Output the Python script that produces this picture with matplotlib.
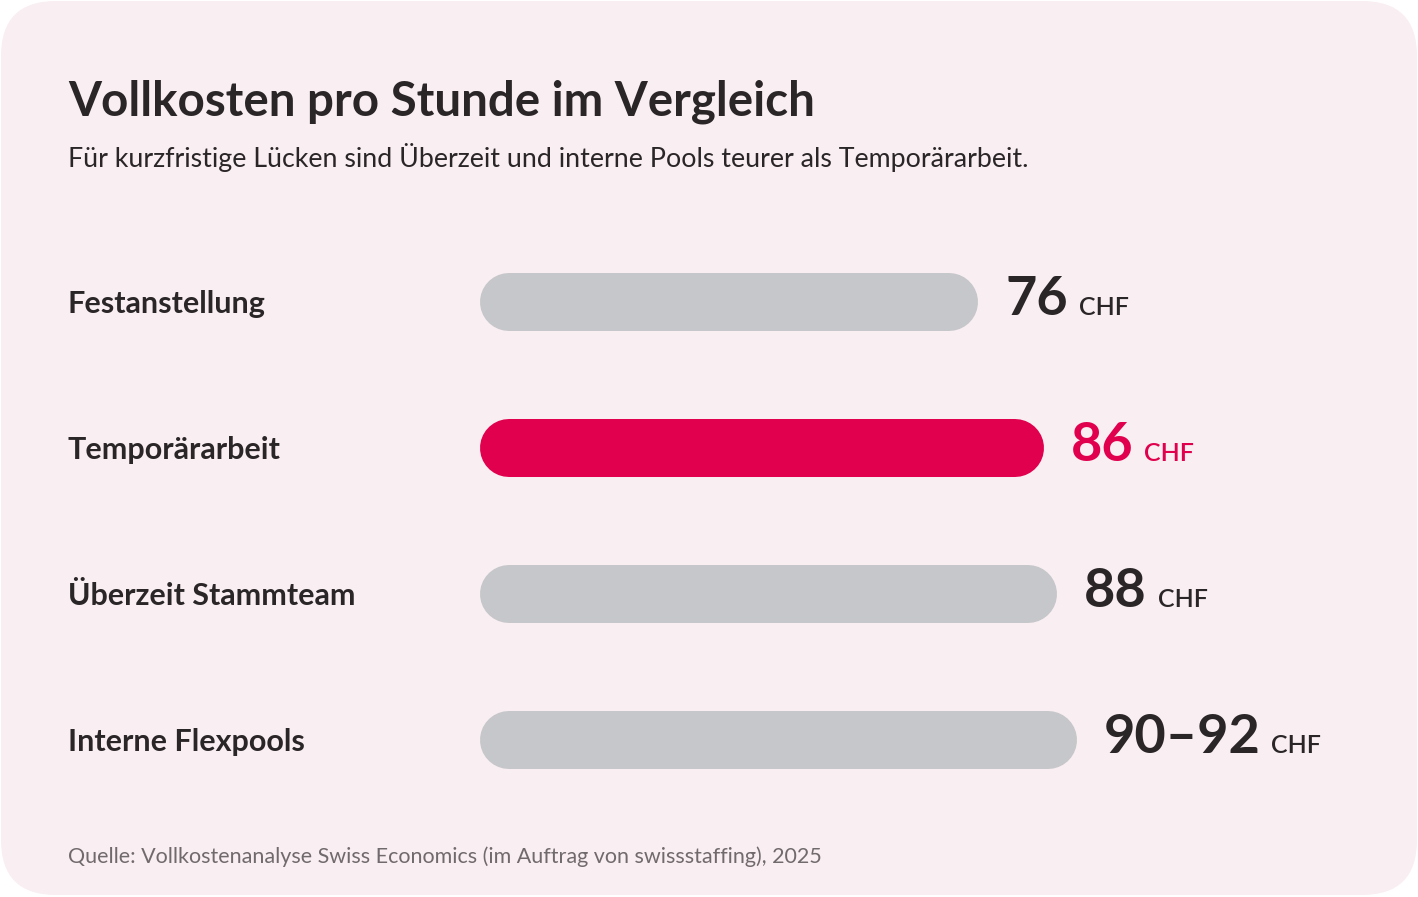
import matplotlib
matplotlib.use("Agg")
import matplotlib.pyplot as plt
from matplotlib.patches import FancyBboxPatch

# ---------------------------
# Data
# ---------------------------
categories = ["Festanstellung", "Temporärarbeit", "Überzeit Stammteam", "Interne Flexpools"]
cost_low = [76, 86, 88, 90]
cost_high = [76, 86, 88, 92]
value_labels = ["76", "86", "88", "90–92"]
highlight = "Temporärarbeit"

title = "Vollkosten pro Stunde im Vergleich"
subtitle = "Für kurzfristige Lücken sind Überzeit und interne Pools teurer als Temporärarbeit."
source = "Quelle: Vollkostenanalyse Swiss Economics (im Auftrag von swissstaffing), 2025"

# ---------------------------
# Style
# ---------------------------
plt.rcParams["font.family"] = ["Lato", "DejaVu Sans"]
card_color = "#F9EEF2"
text_dark = "#2A2627"
grey_bar = "#C6C7CA"
red = "#E0004D"
source_grey = "#706A6D"

W, H = 1418, 897
fig = plt.figure(figsize=(W / 100, H / 100), dpi=100)
fig.patch.set_facecolor("white")

# background axes in pixel units (y down)
bg = fig.add_axes([0, 0, 1, 1], zorder=0)
bg.set_xlim(0, W)
bg.set_ylim(H, 0)
bg.axis("off")
bg.add_patch(FancyBboxPatch((1, 1), W - 2, H - 3,
                            boxstyle="round,pad=0,rounding_size=55",
                            facecolor=card_color, edgecolor="none"))

bg.text(68, 115, title, fontsize=34.2, fontweight="bold", color=text_dark, va="baseline")
bg.text(68, 167, subtitle, fontsize=19.3, color=text_dark, va="baseline")
bg.text(68, 863, source, fontsize=15.5, color=source_grey, va="baseline")

# bar axes: 0 at x=480 px, 6.555 px per CHF
px_per = 6.555
xmax = 130
row_h = 146
top_px = 229
ax_left = 480 / W
ax_w = xmax * px_per / W
ax_h = 4 * row_h / H
ax_bottom = 1 - (top_px + 4 * row_h) / H
ax = fig.add_axes([ax_left, ax_bottom, ax_w, ax_h], zorder=1)
ax.set_xlim(0, xmax)
ax.set_ylim(3.5, -0.5)
ax.axis("off")
ax.patch.set_alpha(0)

bar_px = 58
r = bar_px / 2 / px_per
lw_pt = bar_px * 72 / 100

fig.canvas.draw()
renderer = fig.canvas.get_renderer()

for i, cat in enumerate(categories):
    mid = (cost_low[i] + cost_high[i]) / 2
    col = red if cat == highlight else grey_bar
    ax.plot([r, mid - r], [i, i], color=col, lw=lw_pt, solid_capstyle="round")

    # category label
    ax.annotate(cat, xy=(0, i), xycoords="data", xytext=(-412, -11),
                textcoords="offset pixels", fontsize=22, fontweight="bold",
                color=text_dark, va="baseline", ha="left", annotation_clip=False)

    vcol = red if cat == highlight else text_dark
    num = ax.annotate(value_labels[i], xy=(mid, i), xycoords="data", xytext=(27, -13),
                      textcoords="offset pixels", fontsize=39, fontweight="bold",
                      color=vcol, va="baseline", ha="left", annotation_clip=False)
    bb = num.get_window_extent(renderer)
    ax.annotate("CHF", xy=(mid, i), xycoords="data",
                xytext=(27 + bb.width + 11, -13), textcoords="offset pixels",
                fontsize=18, fontweight="semibold", color=vcol, va="baseline",
                ha="left", annotation_clip=False)

fig.savefig("out.png", dpi=100, facecolor="white")
